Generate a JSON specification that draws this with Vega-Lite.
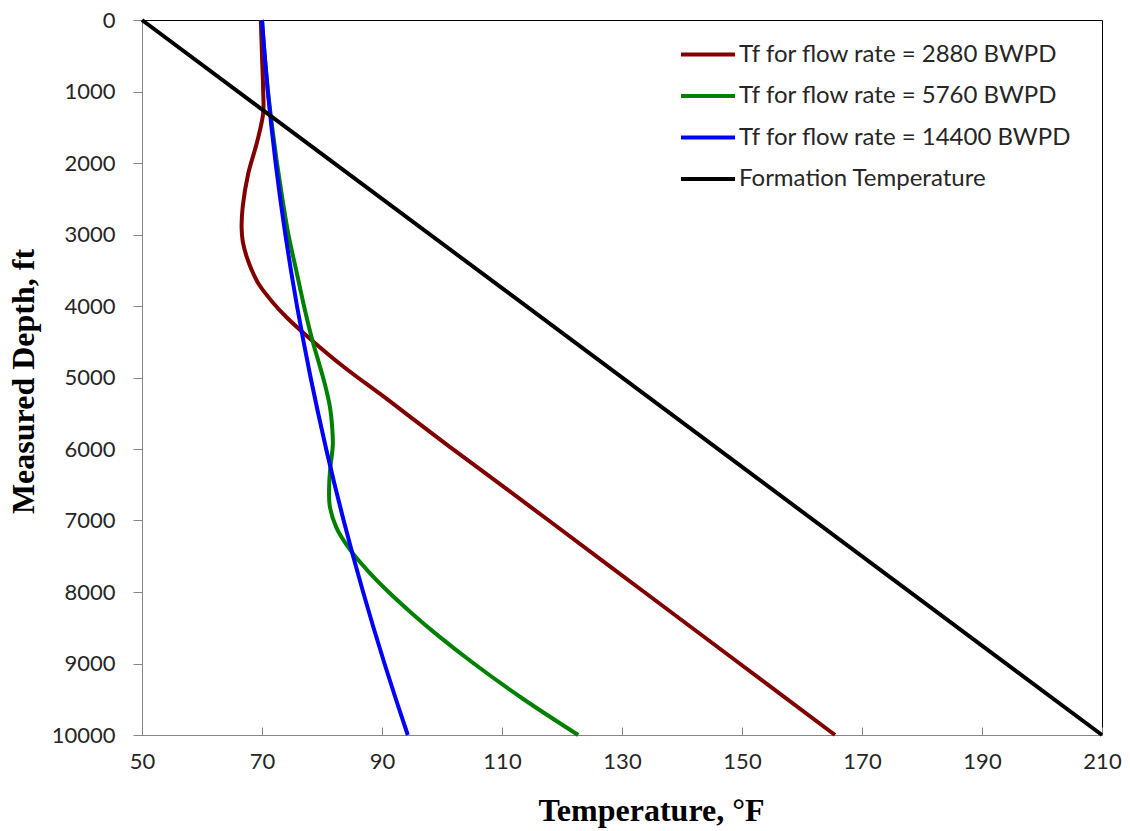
{
  "$schema": "https://vega.github.io/schema/vega-lite/v6.json",
  "width": 960,
  "height": 715,
  "autosize": {"type": "none"},
  "padding": {"left": 142, "top": 20, "right": 28, "bottom": 96},
  "background": "white",
  "config": {
    "view": {"stroke": "#000000", "strokeWidth": 1},
    "font": "Lato"
  },
  "data": {
    "values": [
      {"series": "Tf for flow rate = 2880 BWPD", "depth": 0, "temp": 69.8},
      {"series": "Tf for flow rate = 2880 BWPD", "depth": 500, "temp": 70.0},
      {"series": "Tf for flow rate = 2880 BWPD", "depth": 1000, "temp": 70.2},
      {"series": "Tf for flow rate = 2880 BWPD", "depth": 1300, "temp": 70.2},
      {"series": "Tf for flow rate = 2880 BWPD", "depth": 1700, "temp": 69.2},
      {"series": "Tf for flow rate = 2880 BWPD", "depth": 2150, "temp": 67.7},
      {"series": "Tf for flow rate = 2880 BWPD", "depth": 2600, "temp": 66.8},
      {"series": "Tf for flow rate = 2880 BWPD", "depth": 2900, "temp": 66.6},
      {"series": "Tf for flow rate = 2880 BWPD", "depth": 3100, "temp": 66.8},
      {"series": "Tf for flow rate = 2880 BWPD", "depth": 3300, "temp": 67.4},
      {"series": "Tf for flow rate = 2880 BWPD", "depth": 3500, "temp": 68.3},
      {"series": "Tf for flow rate = 2880 BWPD", "depth": 3700, "temp": 69.5},
      {"series": "Tf for flow rate = 2880 BWPD", "depth": 3950, "temp": 71.8},
      {"series": "Tf for flow rate = 2880 BWPD", "depth": 4150, "temp": 74.0},
      {"series": "Tf for flow rate = 2880 BWPD", "depth": 4450, "temp": 77.9},
      {"series": "Tf for flow rate = 2880 BWPD", "depth": 4850, "temp": 83.6},
      {"series": "Tf for flow rate = 2880 BWPD", "depth": 5300, "temp": 90.8},
      {"series": "Tf for flow rate = 2880 BWPD", "depth": 5800, "temp": 98.6},
      {"series": "Tf for flow rate = 2880 BWPD", "depth": 6250, "temp": 105.8},
      {"series": "Tf for flow rate = 2880 BWPD", "depth": 7000, "temp": 117.8},
      {"series": "Tf for flow rate = 2880 BWPD", "depth": 8000, "temp": 133.7},
      {"series": "Tf for flow rate = 2880 BWPD", "depth": 9000, "temp": 149.6},
      {"series": "Tf for flow rate = 2880 BWPD", "depth": 10000, "temp": 165.5},
      {"series": "Tf for flow rate = 5760 BWPD", "depth": 0, "temp": 70.0},
      {"series": "Tf for flow rate = 5760 BWPD", "depth": 500, "temp": 70.45},
      {"series": "Tf for flow rate = 5760 BWPD", "depth": 1000, "temp": 71.0},
      {"series": "Tf for flow rate = 5760 BWPD", "depth": 1500, "temp": 71.7},
      {"series": "Tf for flow rate = 5760 BWPD", "depth": 2000, "temp": 72.5},
      {"series": "Tf for flow rate = 5760 BWPD", "depth": 2500, "temp": 73.4},
      {"series": "Tf for flow rate = 5760 BWPD", "depth": 3000, "temp": 74.4},
      {"series": "Tf for flow rate = 5760 BWPD", "depth": 3500, "temp": 75.7},
      {"series": "Tf for flow rate = 5760 BWPD", "depth": 4000, "temp": 77.0},
      {"series": "Tf for flow rate = 5760 BWPD", "depth": 4450, "temp": 78.3},
      {"series": "Tf for flow rate = 5760 BWPD", "depth": 4800, "temp": 79.5},
      {"series": "Tf for flow rate = 5760 BWPD", "depth": 5100, "temp": 80.5},
      {"series": "Tf for flow rate = 5760 BWPD", "depth": 5400, "temp": 81.3},
      {"series": "Tf for flow rate = 5760 BWPD", "depth": 5700, "temp": 81.7},
      {"series": "Tf for flow rate = 5760 BWPD", "depth": 5950, "temp": 81.8},
      {"series": "Tf for flow rate = 5760 BWPD", "depth": 6250, "temp": 81.4},
      {"series": "Tf for flow rate = 5760 BWPD", "depth": 6500, "temp": 81.2},
      {"series": "Tf for flow rate = 5760 BWPD", "depth": 6800, "temp": 81.3},
      {"series": "Tf for flow rate = 5760 BWPD", "depth": 7100, "temp": 82.4},
      {"series": "Tf for flow rate = 5760 BWPD", "depth": 7400, "temp": 84.6},
      {"series": "Tf for flow rate = 5760 BWPD", "depth": 7700, "temp": 87.6},
      {"series": "Tf for flow rate = 5760 BWPD", "depth": 8000, "temp": 91.1},
      {"series": "Tf for flow rate = 5760 BWPD", "depth": 8300, "temp": 95.0},
      {"series": "Tf for flow rate = 5760 BWPD", "depth": 8600, "temp": 99.2},
      {"series": "Tf for flow rate = 5760 BWPD", "depth": 9000, "temp": 105.3},
      {"series": "Tf for flow rate = 5760 BWPD", "depth": 9500, "temp": 113.6},
      {"series": "Tf for flow rate = 5760 BWPD", "depth": 10000, "temp": 122.7},
      {"series": "Tf for flow rate = 14400 BWPD", "depth": 0, "temp": 70.0},
      {"series": "Tf for flow rate = 14400 BWPD", "depth": 500, "temp": 70.45},
      {"series": "Tf for flow rate = 14400 BWPD", "depth": 1000, "temp": 70.97},
      {"series": "Tf for flow rate = 14400 BWPD", "depth": 1500, "temp": 71.58},
      {"series": "Tf for flow rate = 14400 BWPD", "depth": 2000, "temp": 72.27},
      {"series": "Tf for flow rate = 14400 BWPD", "depth": 2500, "temp": 73.04},
      {"series": "Tf for flow rate = 14400 BWPD", "depth": 3000, "temp": 73.89},
      {"series": "Tf for flow rate = 14400 BWPD", "depth": 3500, "temp": 74.82},
      {"series": "Tf for flow rate = 14400 BWPD", "depth": 4000, "temp": 75.83},
      {"series": "Tf for flow rate = 14400 BWPD", "depth": 4500, "temp": 76.93},
      {"series": "Tf for flow rate = 14400 BWPD", "depth": 5000, "temp": 78.10},
      {"series": "Tf for flow rate = 14400 BWPD", "depth": 5500, "temp": 79.36},
      {"series": "Tf for flow rate = 14400 BWPD", "depth": 6000, "temp": 80.69},
      {"series": "Tf for flow rate = 14400 BWPD", "depth": 6500, "temp": 82.11},
      {"series": "Tf for flow rate = 14400 BWPD", "depth": 7000, "temp": 83.61},
      {"series": "Tf for flow rate = 14400 BWPD", "depth": 7500, "temp": 85.19},
      {"series": "Tf for flow rate = 14400 BWPD", "depth": 8000, "temp": 86.85},
      {"series": "Tf for flow rate = 14400 BWPD", "depth": 8500, "temp": 88.59},
      {"series": "Tf for flow rate = 14400 BWPD", "depth": 9000, "temp": 90.41},
      {"series": "Tf for flow rate = 14400 BWPD", "depth": 9500, "temp": 92.32},
      {"series": "Tf for flow rate = 14400 BWPD", "depth": 10000, "temp": 94.30},
      {"series": "Formation Temperature", "depth": 0, "temp": 50},
      {"series": "Formation Temperature", "depth": 10000, "temp": 210}
    ]
  },
  "mark": {"type": "line", "strokeWidth": 4, "interpolate": "catmull-rom", "strokeCap": "butt"},
  "encoding": {
    "x": {
      "field": "temp",
      "type": "quantitative",
      "scale": {"domain": [50, 210], "nice": false, "zero": false},
      "axis": {
        "values": [50, 70, 90, 110, 130, 150, 170, 190, 210],
        "grid": false,
        "labelFlush": false,
        "domainColor": "#868686",
        "tickColor": "#868686",
        "tickSize": -8,
        "labelPadding": 24,
        "labelFontSize": 22,
        "labelFont": "Lato",
        "labelColor": "#262626",
        "title": "Temperature, °F",
        "titleFont": "Liberation Serif",
        "titleFontSize": 32,
        "titleFontWeight": "bold",
        "titleColor": "#000000",
        "titleX": 509,
        "titleY": 60,
        "titleBaseline": "top"
      }
    },
    "y": {
      "field": "depth",
      "type": "quantitative",
      "scale": {"domain": [0, 10000], "reverse": true, "nice": false},
      "axis": {
        "values": [0, 1000, 2000, 3000, 4000, 5000, 6000, 7000, 8000, 9000, 10000],
        "format": "d",
        "grid": false,
        "labelFlush": false,
        "domainColor": "#868686",
        "tickColor": "#868686",
        "tickSize": 9,
        "labelPadding": 18,
        "labelFontSize": 22,
        "labelFont": "Lato",
        "labelColor": "#262626",
        "title": "Measured Depth, ft",
        "titleFont": "Liberation Serif",
        "titleFontSize": 32,
        "titleFontWeight": "bold",
        "titleColor": "#000000",
        "titleX": -102,
        "titleY": 361,
        "titleAngle": -90,
        "titleBaseline": "bottom",
        "titleAlign": "center"
      }
    },
    "color": {
      "field": "series",
      "type": "nominal",
      "scale": {
        "domain": ["Tf for flow rate = 2880 BWPD", "Tf for flow rate = 5760 BWPD", "Tf for flow rate = 14400 BWPD", "Formation Temperature"],
        "range": ["#800000", "#008000", "#0000FF", "#000000"]
      },
      "legend": {
        "title": null,
        "orient": "none",
        "legendX": 537,
        "legendY": 19,
        "padding": 0,
        "symbolType": "M-1,0H3",
        "symbolSize": 729,
        "symbolStrokeWidth": 4,
        "labelOffset": 29,
        "labelFontSize": 24,
        "labelFont": "Lato",
        "labelColor": "#262626",
        "rowPadding": 13.5,
        "labelLimit": 500
      }
    },
    "order": {"field": "depth", "type": "quantitative"}
  }
}
